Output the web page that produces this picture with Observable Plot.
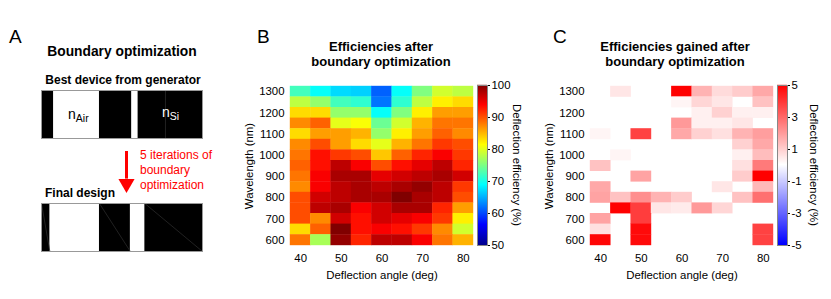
<!DOCTYPE html>
<html><head><meta charset="utf-8">
<script src="https://cdn.jsdelivr.net/npm/d3@7"></script>
<script src="https://cdn.jsdelivr.net/npm/@observablehq/plot@0.6"></script>
<style>
html,body{margin:0;padding:0;background:#fff}
#root{position:relative;width:831px;height:299px;overflow:hidden;font-family:"Liberation Sans",Arial,sans-serif;color:#000}
.t{position:absolute;white-space:nowrap;line-height:1}
.c{transform:translateX(-50%);text-align:center}
sub{font-size:0.75em;vertical-align:-0.3em;line-height:0}
</style></head><body><div id="root"></div>
<script>
const angles=[40,45,50,55,60,65,70,75,80];
const wavelengths=[1300,1250,1200,1150,1100,1050,1000,950,900,850,800,750,700,650,600];
const wavelengthTicks=[600,700,800,900,1000,1100,1200,1300];
const angleTicks=[40,50,60,70,80];
const efficiency=[
[72,69,67,66.5,61,69,75,79,78],
[78,76,72,71,62,71,78,82,83],
[83,83,76,76,69,75,82,86,86],
[87,89,80,81,74,79,85,88,88],
[83,86,86,85,76,82,86,89,87],
[87,90,86,83,80,85,88,91,90],
[88,93,91,90,84,89,92,94,91],
[89,93,97,94,90,93,95,97,92],
[88,94,98,98,95,96,97,98,96],
[87,94,97,98,97,98,99,97,91],
[90,96,97,98,98,100,98,97,90],
[90,97,98,94,96,98,98,92,86],
[90,87,96,93,96,95,94,91,82],
[83,89,100,93,94,93,91,87,79],
[88,77,99,92,97,97,94,88,85]];
const gained=[
[0,0.5,0,0,5,1.5,0.7,1,1.7],
[0,0,0,0,0.2,0.8,0.5,0,1.2],
[0,0,0,0,0,0.3,0.9,0.3,0.3],
[0,0,0,0,2,0.3,0.3,0.5,0],
[0.2,0,3.7,0,1.7,0.9,0.6,1.5,1.9],
[0,0,0,0,0,0,0,0.9,1.7],
[0,0.2,0,0,0,0,0,0.3,1.3],
[1.2,0,0,0,0,0,0,0.6,2.6],
[0,0,1.8,0,0,0,0,1,5],
[1.7,0,0,0,0,0,0.5,0,1.4],
[1.8,1.2,2.2,1.5,1,0,0,1.2,2.8],
[0,5,3.8,0.5,0.4,2,0.8,0,0],
[1.8,0,3.8,0,0,0,0,0,0],
[0.6,0,4.8,0,0,0,0,0,3.7],
[4.9,0,4.8,0,0,0,0,0,3.7]];
const jetStops=[50,56.25,68.75,81.25,93.75,100];
const jetColors=["#00008f","#0000ff","#00ffff","#ffff00","#ff0000","#800000"];
const bwrStops=[-5,0,5];
const bwrColors=["#0000ff","#ffffff","#ff0000"];
const jetTicks=[50,60,70,80,90,100];
const bwrTicks=[-5,-3,-1,1,3,5];
const bestGaps=[[0.075,0.36],[0.56,0.6]];
const finalGaps=[[0.052,0.36],[0.552,0.642]];
const bestSeams=[[0.77,0.77]];
const finalSeams=[[0,0.052],[0.36,0.552],[0.642,1]];
const font={fontFamily:'"Liberation Sans",Arial,sans-serif',fontSize:"11.4px",color:"#000",background:"transparent",overflow:"visible"};
const root=document.getElementById("root");
function put(node,left,top){node.style.position="absolute";node.style.left=left+"px";node.style.top=top+"px";root.appendChild(node);}
function text(html,x,y,size,opts={}){const d=document.createElement("div");d.className="t"+(opts.center?" c":"");d.innerHTML=html;
 d.style.left=x+"px";d.style.top=y+"px";d.style.fontSize=size+"px";if(opts.bold)d.style.fontWeight="bold";if(opts.color)d.style.color=opts.color;if(opts.lh)d.style.lineHeight=opts.lh+"px";root.appendChild(d);}
function heat(values,stops,colors,left){
 const data=[];values.forEach((row,i)=>row.forEach((v,j)=>data.push({a:angles[j],w:wavelengths[i],v})));
 put(Plot.plot({width:233,height:209,marginLeft:50,marginRight:0,marginTop:10,marginBottom:40,style:font,
  x:{type:"band",domain:angles,padding:0,round:false},
  y:{type:"band",domain:wavelengths,padding:0,round:false},
  color:{type:"linear",domain:stops,range:colors,interpolate:"rgb"},
  marks:[
   Plot.cell(data.filter(d=>d.v!==0),{x:"a",y:"w",fill:"v",inset:-0.2}),
   Plot.axisX({ticks:angleTicks,tickSize:0,tickPadding:8,label:"Deflection angle (deg)",labelAnchor:"center",labelArrow:"none",labelOffset:33}),
   Plot.axisY({ticks:wavelengthTicks,tickSize:0,tickPadding:6,tickFormat:d=>String(d),label:"Wavelength (nm)",labelAnchor:"center",labelArrow:"none",labelOffset:46})
  ]}),left-50,76);
}
function bar(stops,colors,ticks,left,labelX){
 const lo=stops[0],hi=stops[stops.length-1],step=(hi-lo)/160;
 const ramp=d3.range(lo,hi,step);
 put(Plot.plot({width:70,height:180,marginLeft:0,marginRight:60,marginTop:10,marginBottom:10,style:font,
  x:{domain:[0,1],axis:null},
  y:{domain:[lo,hi]},
  color:{type:"linear",domain:stops,range:colors,interpolate:"rgb"},
  marks:[
   Plot.rect(ramp,{x1:0,x2:1,y1:d=>d,y2:d=>d+step*1.2,fill:d=>d}),
   Plot.frame({stroke:"#888",strokeWidth:1}),
   Plot.axisY({anchor:"right",ticks,tickSize:2,tickPadding:2,tickFormat:d=>String(d),label:null})
  ]}),left,75);
 const d=document.createElement("div");d.className="t";d.textContent="Deflection efficiency (%)";
 d.style.cssText+=`left:${labelX}px;top:165px;font-size:11.4px;transform:translate(-50%,-50%) rotate(90deg)`;
 root.appendChild(d);
}
function device(gaps,seams,top){
 put(Plot.plot({width:161,height:48,margin:0,style:font,
  x:{domain:[0,1],axis:null},y:{domain:[0,1],axis:null},
  marks:[
   Plot.rect([0],{x1:0,x2:1,y1:0,y2:1,fill:"#000"}),
   Plot.rect(gaps,{x1:d=>d[0],x2:d=>d[1],y1:0,y2:1,fill:"#fff"}),
   Plot.link(seams,{x1:d=>d[0],x2:d=>d[1],y1:1,y2:0,stroke:"#2a2a2a",strokeWidth:0.8}),
   Plot.frame({stroke:"#999",strokeWidth:1})
  ]}),41,top);
}
// Panel A
text("A",9,27,19);
text("Boundary optimization",122,45,13.8,{bold:true,center:true});
text("Best device from generator",123,74,12,{bold:true,center:true});
device(bestGaps,bestSeams,90);
text("n<sub>Air</sub>",68,107,14);
text("n<sub>Si</sub>",162,105,14,{color:"#fff"});
put(Plot.plot({width:30,height:46,margin:0,style:font,
 x:{domain:[0,1],axis:null},y:{domain:[0,1],reverse:true,axis:null},
 marks:[Plot.ruleX([0.5],{y1:0,y2:0.6,stroke:"#f00",strokeWidth:3}),
  Plot.dot([0.5],{x:d=>d,y:0.7,symbol:"triangle",r:6,fill:"#f00",rotate:180})]}),111,151);
text("5 iterations of<br>boundary<br>optimization",140,148,12,{color:"#f00",lh:14.8});
text("Final design",45,187,12,{bold:true});
device(finalGaps,finalSeams,203);
// Panel B
text("B",257,27,19);
text("Efficiencies after<br>boundary optimization",381,39,13,{bold:true,center:true,lh:15});
heat(efficiency,jetStops,jetColors,290);
bar(jetStops,jetColors,jetTicks,477,516);
// Panel C
text("C",553,27,19);
text("Efficiencies gained after<br>boundary optimization",675,39,13,{bold:true,center:true,lh:15});
heat(gained,bwrStops,bwrColors,590);
bar(bwrStops,bwrColors,bwrTicks,777,813);
</script></body></html>
